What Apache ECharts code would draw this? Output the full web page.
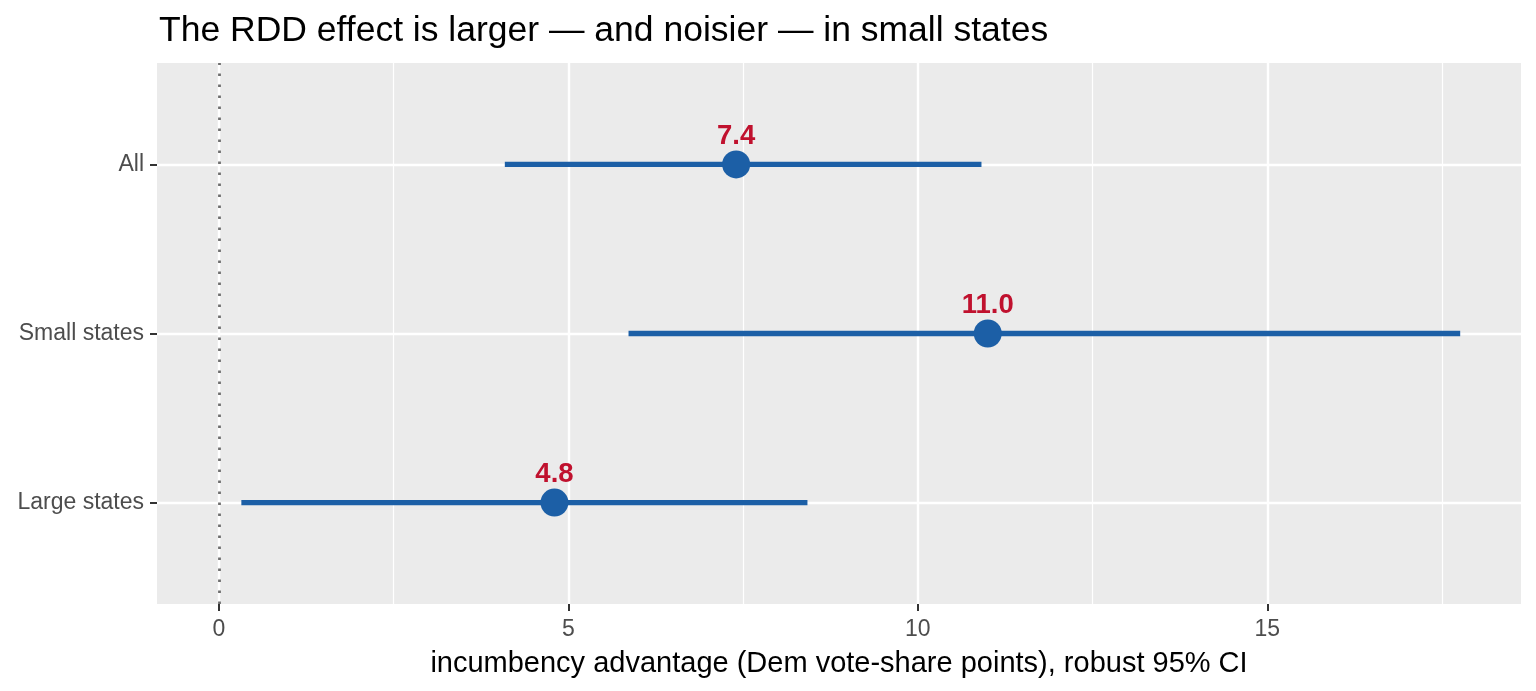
<!DOCTYPE html>
<html>
<head>
<meta charset="utf-8">
<script src="https://cdn.jsdelivr.net/npm/echarts@6/dist/echarts.min.js"></script>
<style>
  html, body { margin: 0; padding: 0; background: #fff; }
  #main { width: 1536px; height: 691px; }
</style>
</head>
<body>
<div id="main"></div>
<script>
// Données (bas -> haut)
const categories = ['Large states', 'Small states', 'All'];
const estimates = [4.8, 11.0, 7.4];
const ciLow = [0.32, 5.86, 4.09];
const ciHigh = [8.42, 17.76, 10.91];
const majorTicks = [0, 5, 10, 15];
const minorTicks = [2.5, 7.5, 12.5, 17.5];

const BLUE = '#1c5fa6';
const RED = '#c0112e';
const FONT = '"Liberation Sans", Arial, sans-serif';

const chart = echarts.init(document.getElementById('main'), null, { renderer: 'canvas' });

const rows = categories.map((c, i) => [estimates[i], i, ciLow[i], ciHigh[i]]);

const option = {
  animation: false,
  textStyle: { fontFamily: FONT },
  title: {
    text: 'The RDD effect is larger — and noisier — in small states',
    left: 154, top: 8,
    textStyle: { fontFamily: FONT, fontSize: 35.5, fontWeight: 'normal', color: '#000' }
  },
  grid: {
    left: 157, right: 15, top: 63, bottom: 87,
    show: true, backgroundColor: '#ebebeb', borderWidth: 0
  },
  xAxis: [
    {
      type: 'value', min: -0.887, max: 18.63,
      name: 'incumbency advantage (Dem vote-share points), robust 95% CI',
      nameLocation: 'middle', nameGap: 45,
      nameTextStyle: { fontFamily: FONT, fontSize: 29, color: '#000' },
      axisLine: { show: false, onZero: false },
      axisTick: { show: true, customValues: majorTicks, length: 7, lineStyle: { color: '#333', width: 2 } },
      axisLabel: { customValues: majorTicks, fontSize: 23, color: '#4d4d4d', margin: 14 },
      splitLine: { show: true, lineStyle: { color: '#fff', width: 2.4 } }
    },
    {
      type: 'value', min: -0.887, max: 18.63, position: 'bottom',
      axisLine: { show: false, onZero: false },
      axisTick: { show: false, customValues: minorTicks },
      axisLabel: { show: false, customValues: minorTicks },
      splitLine: { show: true, lineStyle: { color: '#fff', width: 1.2 } }
    }
  ],
  yAxis: {
    type: 'value', min: -0.6, max: 2.6,
    axisLine: { show: false, onZero: false },
    axisTick: { show: true, customValues: [0, 1, 2], length: 7, lineStyle: { color: '#333', width: 2 } },
    axisLabel: {
      customValues: [0, 1, 2], fontSize: 23, color: '#4d4d4d', margin: 13,
      formatter: v => categories[Math.round(v)] || ''
    },
    splitLine: { show: true, lineStyle: { color: '#fff', width: 2.4 } }
  },
  series: [
    {
      name: 'ref',
      type: 'scatter',
      data: [],
      markLine: {
        silent: true, symbol: 'none', label: { show: false },
        lineStyle: { color: '#6f6f6f', width: 2.8, type: [2.6, 8.4] },
        data: [{ xAxis: 0 }]
      }
    },
    {
      name: 'IC 95%',
      type: 'custom',
      data: rows,
      encode: { x: [2, 3], y: 1 },
      renderItem: function (params, api) {
        const p1 = api.coord([api.value(2), api.value(1)]);
        const p2 = api.coord([api.value(3), api.value(1)]);
        return {
          type: 'line',
          shape: { x1: p1[0], y1: p1[1], x2: p2[0], y2: p2[1] },
          style: { stroke: BLUE, lineWidth: 5.3, lineCap: 'butt' }
        };
      },
      z: 3
    },
    {
      name: 'Estimation',
      type: 'scatter',
      data: rows.map(r => [r[0], r[1]]),
      symbolSize: 28,
      itemStyle: { color: BLUE, opacity: 1 },
      label: {
        show: true, position: 'top', distance: 0,
        formatter: p => p.value[0].toFixed(1),
        color: RED, fontSize: 27.5, fontWeight: 'bold', fontFamily: FONT
      },
      z: 4
    }
  ]
};

chart.setOption(option);
</script>
</body>
</html>
